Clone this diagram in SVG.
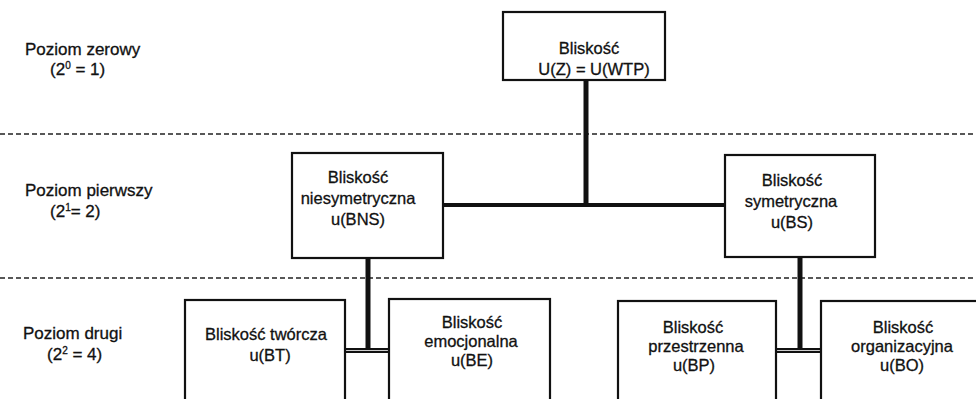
<svg xmlns="http://www.w3.org/2000/svg" width="976" height="399" viewBox="0 0 976 399">
<style>
text{font-family:"Liberation Sans",Arial,sans-serif;font-size:16.5px;fill:#111;stroke:#111;stroke-width:0.3}
.lv{font-size:17px}
.c{text-anchor:middle}
.box{fill:#fff;stroke:#111;stroke-width:2.2}
.dash{stroke:#222;stroke-width:1.3;stroke-dasharray:5 3;fill:none}
.con{stroke:#111;fill:none}
.sup{font-size:10px}
</style>
<rect width="976" height="399" fill="#fff"/>
<g id="levels">
<line class="dash" x1="0" y1="134" x2="976" y2="134"/>
<line class="dash" x1="0" y1="278" x2="976" y2="278"/>
<text class="lv" x="25" y="55">Poziom zerowy</text>
<text class="lv" x="50" y="75">(2<tspan class="sup" dy="-6">0</tspan><tspan dy="6"> = 1)</tspan></text>
<text class="lv" x="25" y="196">Poziom pierwszy</text>
<text class="lv" x="50" y="217">(2<tspan class="sup" dy="-6">1</tspan><tspan dy="6">= 2)</tspan></text>
<text class="lv" x="23" y="339">Poziom drugi</text>
<text class="lv" x="47" y="360">(2<tspan class="sup" dy="-6">2</tspan><tspan dy="6"> = 4)</tspan></text>
</g>
<g id="connectors">
<line class="con" x1="586" y1="80" x2="586" y2="207" stroke-width="5"/>
<line class="con" x1="443" y1="205" x2="725" y2="205" stroke-width="4"/>
<line class="con" x1="368" y1="258" x2="368" y2="350" stroke-width="5"/>
<line class="con" x1="800" y1="257" x2="800" y2="350" stroke-width="5"/>
<line class="con" x1="345" y1="350.5" x2="389" y2="350.5" stroke-width="5"/>
<line x1="345" y1="350.5" x2="389" y2="350.5" stroke="#ccc" stroke-width="1"/>
<line class="con" x1="776" y1="350.5" x2="821" y2="350.5" stroke-width="5"/>
<line x1="776" y1="350.5" x2="821" y2="350.5" stroke="#ccc" stroke-width="1"/>
</g>
<g id="wtp">
<rect class="box" x="503" y="12" width="162" height="68"/>
<text class="c" x="589" y="54">Bliskość</text>
<text class="c" x="594" y="75">U(Z) = U(WTP)</text>
</g>
<g id="bns">
<rect class="box" x="292" y="153" width="151" height="105"/>
<text class="c" x="358" y="183">Bliskość</text>
<text class="c" x="358" y="204">niesymetryczna</text>
<text class="c" x="358" y="225">u(BNS)</text>
</g>
<g id="bs">
<rect class="box" x="725" y="155" width="150" height="102"/>
<text class="c" x="792" y="186">Bliskość</text>
<text class="c" x="791" y="207">symetryczna</text>
<text class="c" x="792" y="228">u(BS)</text>
</g>
<g id="bt">
<rect class="box" x="185" y="300" width="160" height="110"/>
<text class="c" x="266" y="340">Bliskość twórcza</text>
<text class="c" x="270" y="361">u(BT)</text>
</g>
<g id="be">
<rect class="box" x="389" y="299" width="161" height="110"/>
<text class="c" x="472" y="328">Bliskość</text>
<text class="c" x="471" y="347">emocjonalna</text>
<text class="c" x="472" y="366">u(BE)</text>
</g>
<g id="bp">
<rect class="box" x="618" y="301" width="158" height="110"/>
<text class="c" x="693" y="333">Bliskość</text>
<text class="c" x="696" y="352">przestrzenna</text>
<text class="c" x="694" y="371">u(BP)</text>
</g>
<g id="bo">
<rect class="box" x="821" y="301" width="170" height="110"/>
<text class="c" x="903" y="333">Bliskość</text>
<text class="c" x="902" y="352">organizacyjna</text>
<text class="c" x="902" y="371">u(BO)</text>
</g>
</svg>
